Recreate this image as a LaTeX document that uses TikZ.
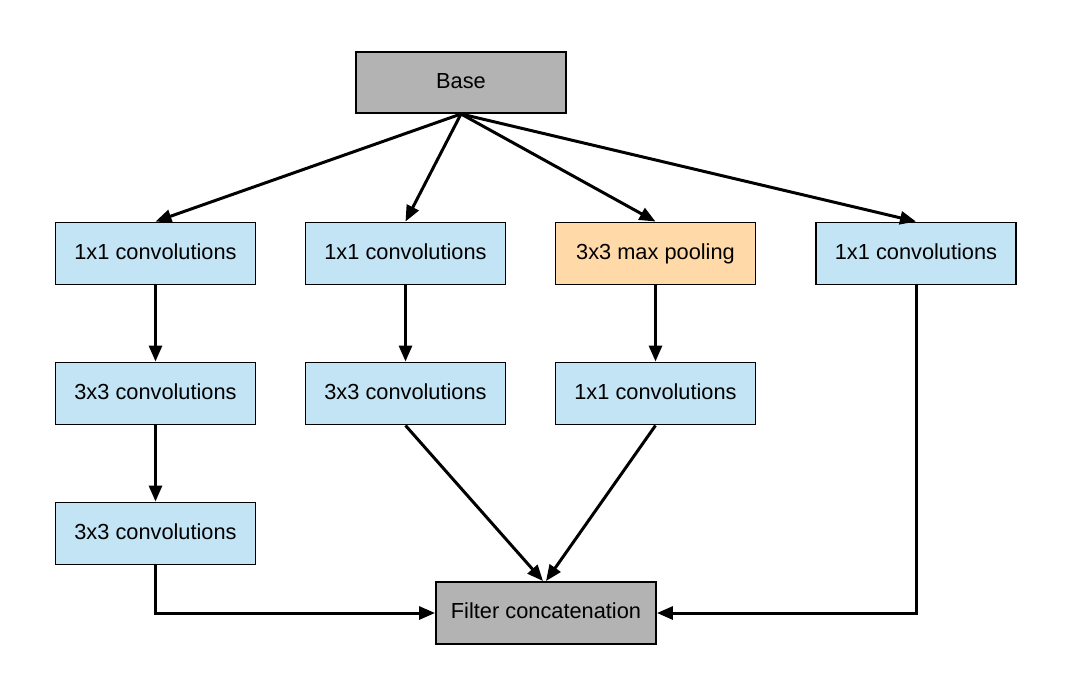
\documentclass[tikz,border=0pt]{standalone}
\usepackage{fontspec}
\setmainfont{Liberation Sans}
\usetikzlibrary{arrows.meta}
\definecolor{boxblue}{HTML}{C2E4F5}
\definecolor{boxorange}{HTML}{FFDAA8}
\definecolor{boxgray}{HTML}{B3B3B3}
\begin{document}
\begin{tikzpicture}[
    every node/.style={align=center, font=\fontsize{12.4}{14}\selectfont, text height=0.72em, text depth=0.04em},
    layer/.style={draw, line width=1.1pt, fill=boxblue, minimum width=4.0cm, minimum height=1.24cm},
    pool layer/.style={layer, fill=boxorange},
    gray layer/.style={layer, fill=boxgray},
    flow arrow/.style={draw, line width=1.7pt, -{Triangle[length=0.32cm,width=0.26cm]}},
    ]
\useasboundingbox (0,0) rectangle (21.32,-13.7);
\node[gray layer, minimum width=4.2cm, minimum height=1.22cm] (Base) at (9.22,-1.65) {Base};
\node[layer] (ConvA) at (3.11,-5.07) {1x1 convolutions};
\node[layer] (ConvB) at (8.11,-5.07) {1x1 convolutions};
\node[pool layer] (Pool) at (13.11,-5.07) {3x3 max pooling};
\node[layer] (ConvD) at (18.32,-5.07) {1x1 convolutions};
\draw[flow arrow] (Base.south) -- (ConvA.north);
\draw[flow arrow] (Base.south) -- (ConvB.north);
\draw[flow arrow] (Base.south) -- (Pool.north);
\draw[flow arrow] (Base.south) -- (ConvD.north);
\node[layer] (ConvAA) at (3.11,-7.87) {3x3 convolutions};
\node[layer] (ConvBB) at (8.11,-7.87) {3x3 convolutions};
\node[layer] (PoolConv) at (13.11,-7.87) {1x1 convolutions};
\node[layer] (ConvAAA) at (3.11,-10.67) {3x3 convolutions};
\draw[flow arrow] (ConvA) -- (ConvAA);
\draw[flow arrow] (ConvB) -- (ConvBB);
\draw[flow arrow] (Pool) -- (PoolConv);
\draw[flow arrow] (ConvAA) -- (ConvAAA);
\node[gray layer, minimum width=4.4cm] (Concat) at (10.92,-12.26) {Filter concatenation};
\draw[flow arrow] (ConvBB.south) -- ([xshift=-0.06cm]Concat.north);
\draw[flow arrow] (PoolConv.south) -- (Concat.north);
\draw[flow arrow] (ConvAAA.south) |- (Concat.west);
\draw[flow arrow] (ConvD.south) |- (Concat.east);
\end{tikzpicture}
\end{document}
